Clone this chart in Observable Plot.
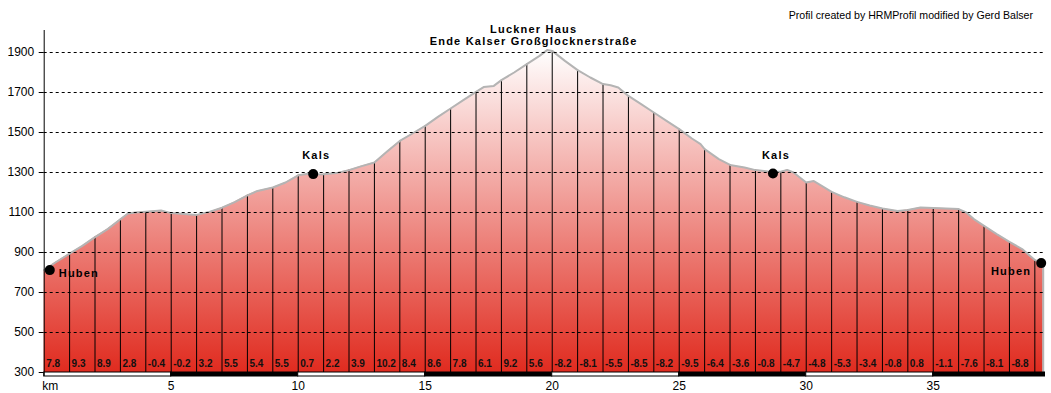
<!DOCTYPE html>
<html><head><meta charset="utf-8">
<script src="https://cdn.jsdelivr.net/npm/d3@7"></script>
<script src="https://cdn.jsdelivr.net/npm/@observablehq/plot@0.6"></script>
<style>
body{margin:0;background:#fff;}
</style></head><body><div id="chart"></div>
<script>
// Elevation profile (km, m)
const profileKm = [0, 0.44, 1, 1.5, 2, 2.5, 3, 3.3, 3.6, 4,
  4.6, 5, 5.5, 6, 6.5, 7, 7.5, 8, 8.4, 9,
  9.5, 10, 10.4, 10.7, 11, 11.5, 12, 12.5, 13, 13.5,
  14, 14.5, 15, 15.5, 16, 16.5, 17, 17.3, 17.7, 18,
  18.5, 19, 19.5, 19.8, 20, 20.5, 21, 21.5, 22, 22.3,
  22.6, 23, 23.5, 24, 24.5, 25, 25.5, 25.84, 26, 26.56,
  27, 27.57, 28, 28.5, 29, 29.25, 29.5, 30, 30.3, 31,
  31.5, 32, 32.5, 33, 33.6, 34, 34.5, 35, 35.5, 36,
  36.3, 36.6, 37, 37.5, 38, 38.5, 39, 39.33];
const profileElev = [812, 850, 894, 933, 977, 1017, 1066, 1095, 1100, 1104,
  1110, 1097, 1093, 1088, 1103, 1124, 1152, 1186, 1208, 1225,
  1250, 1286, 1294, 1290, 1291, 1297, 1312, 1332, 1350, 1405,
  1458, 1495, 1533, 1578, 1620, 1662, 1703, 1727, 1733, 1762,
  1800, 1842, 1883, 1912, 1908, 1858, 1812, 1775, 1742, 1736,
  1725, 1683, 1642, 1600, 1558, 1517, 1470, 1442, 1417, 1367,
  1338, 1325, 1312, 1305, 1304, 1313, 1300, 1250, 1257, 1203,
  1176, 1153, 1135, 1120, 1108, 1112, 1125, 1122, 1120, 1117,
  1100, 1067, 1033, 992, 953, 917, 862, 848];

// Gradient (%) per km segment, starting at km 0
const gradients = [7.8, 9.3, 8.9, 2.8, -0.4, -0.2, 3.2, 5.5, 5.4, 5.5,
  0.7, 2.2, 3.9, 10.2, 8.4, 8.6, 7.8, 6.1, 9.2, 5.6,
  -8.2, -8.1, -5.5, -8.5, -8.2, -9.5, -6.4, -3.6, -0.8, -4.7,
  -4.8, -5.3, -3.4, -0.8, 0.8, -1.1, -7.6, -8.1, -8.8];

const yTicks = [300, 500, 700, 900, 1100, 1300, 1500, 1700, 1900];
const gridTicks = [500, 700, 900, 1100, 1300, 1500, 1700, 1900];
const xTicks = [5, 10, 15, 20, 25, 30, 35];
const barStart = [0, 5, 10, 15, 20, 25, 30, 35];
const barEnd = [5, 10, 15, 20, 25, 30, 35, 39.4];

const placeNames = ["Huben", "Kals", "Kals", "Huben"];
const placeKm = [0.22, 10.59, 28.69, 39.25];
const placeElev = [812, 1292, 1295, 847];

const summitLines = ["Luckner Haus", "Ende Kalser Großglocknerstraße"];
const summitKm = 19.8, summitElev = 1912;
const credit = "Profil created by HRMProfil modified by Gerd Balser";

const xMax = 39.4, yMin = 300, yMax = 2010;

const profile = profileKm.map((k, i) => ({km: k, elev: profileElev[i]}));
const kmLines = profile.filter(d => Number.isInteger(d.km) && d.km > 0);
const grades = gradients.map((g, i) => ({km: i, g}));
const bars = barStart.map((s, i) => ({s, e: barEnd[i], i}));
const places = placeNames.map((n, i) => ({name: n, km: placeKm[i], elev: placeElev[i], i}));
const last = profile[profile.length - 1];

const labelFont = "Liberation Sans, Arial, sans-serif";

const svg = Plot.plot({
  width: 1051,
  height: 393,
  marginLeft: 43.7,
  marginRight: 6.5,
  marginTop: 30,
  marginBottom: 21,
  style: {fontFamily: labelFont, fontSize: "12px", background: "#fff", overflow: "visible"},
  x: {domain: [0, xMax], axis: null},
  y: {domain: [yMin, yMax], ticks: yTicks, tickSize: 5, tickPadding: 5, label: null, tickFormat: d => String(d)},
  marks: [
    Plot.areaY(profile, {x: "km", y: "elev", y1: yMin, fill: "url(#relief)"}),
    Plot.ruleX(kmLines, {x: "km", y1: yMin, y2: "elev", stroke: "#000", strokeWidth: 1}),
    Plot.line(profile, {x: "km", y: "elev", stroke: "#b4b4b4", strokeWidth: 2}),
    Plot.ruleX([last], {x: "km", y1: yMin, y2: "elev", stroke: "#b4b4b4", strokeWidth: 2}),
    Plot.ruleY(gridTicks, {x1: 0, x2: xMax, y: d => d, stroke: "#000", strokeWidth: 1, strokeDasharray: "3,3"}),
    Plot.rect(bars, {x1: "s", x2: "e", y1: yMin, y2: 280, fill: d => d.i % 2 ? "#000" : "#fff", stroke: "#000", strokeWidth: 1}),
    Plot.ruleX([0], {y1: 280, y2: yMax, stroke: "#000", strokeWidth: 1}),
    Plot.text(grades, {x: "km", text: d => String(d.g), frameAnchor: "bottom", dx: 2, dy: -8.5,
      textAnchor: "start", lineAnchor: "middle", fontSize: 10, fontWeight: "bold", fill: "#111"}),
    Plot.text(xTicks, {x: d => d, text: d => String(d), frameAnchor: "bottom", dy: 14,
      textAnchor: "middle", lineAnchor: "middle", fontSize: 12, fill: "#000"}),
    Plot.text(["km"], {x: 0, text: d => d, frameAnchor: "bottom", dx: -2, dy: 14,
      textAnchor: "start", lineAnchor: "middle", fontSize: 12, fill: "#000"}),
    Plot.dot(places, {x: "km", y: "elev", r: 5, fill: "#000", stroke: "none"}),
    Plot.text(places.filter(d => d.i === 0), {x: "km", y: "elev", text: "name", dx: 9, dy: 3,
      textAnchor: "start", lineAnchor: "middle", fontSize: 11, fontWeight: "bold"}),
    Plot.text(places.filter(d => d.i === 1 || d.i === 2), {x: "km", y: "elev", text: "name", dx: 3, dy: -18.5,
      textAnchor: "middle", lineAnchor: "middle", fontSize: 11, fontWeight: "bold"}),
    Plot.text(places.filter(d => d.i === 3), {x: "km", y: "elev", text: "name", dx: -10, dy: 8.5,
      textAnchor: "end", lineAnchor: "middle", fontSize: 11, fontWeight: "bold"}),
    Plot.text([summitLines[0]], {x: summitKm, y: summitElev, text: d => d, dx: -13.5, dy: -20.6,
      textAnchor: "middle", lineAnchor: "middle", fontSize: 11, fontWeight: "bold"}),
    Plot.text([summitLines[1]], {x: summitKm, y: summitElev, text: d => d, dx: -13.5, dy: -8.6,
      textAnchor: "middle", lineAnchor: "middle", fontSize: 11, fontWeight: "bold"}),
    Plot.text([credit], {text: d => d, frameAnchor: "top-right", dx: -12, dy: -15,
      textAnchor: "end", lineAnchor: "middle", fontSize: 10.6, fill: "#000"})
  ]
});

const defs = d3.select(svg).insert("defs", ":first-child");
const grad = defs.append("linearGradient").attr("id", "relief")
  .attr("x1", 0).attr("y1", 0).attr("x2", 0).attr("y2", 1);
grad.append("stop").attr("offset", "0%").attr("stop-color", "#ffffff");
grad.append("stop").attr("offset", "100%").attr("stop-color", "#e02b1f");

// widen letter spacing of place/summit labels
const spaced = new Set([...placeNames, ...summitLines]);
d3.select(svg).selectAll("text").filter(function() { return spaced.has(this.textContent); })
  .attr("letter-spacing", "1.2px");

document.getElementById("chart").appendChild(svg);
</script></body></html>
